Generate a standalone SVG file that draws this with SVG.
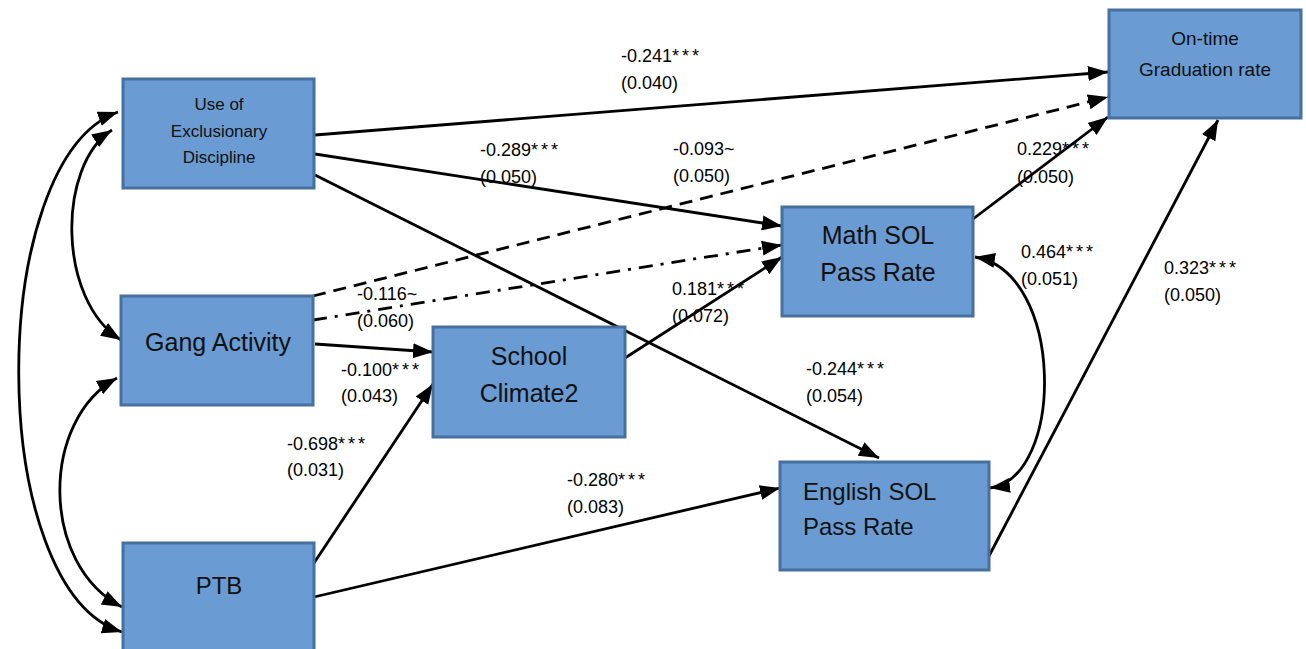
<svg xmlns="http://www.w3.org/2000/svg" width="1306" height="649" viewBox="0 0 1306 649">
<style>
.node{fill:#6a9bd2;stroke:#46709f;stroke-width:3}
.nt{font-family:"Liberation Sans",Arial,sans-serif;fill:#111;text-anchor:middle}
.lb{font-family:"Liberation Sans",Arial,sans-serif;font-size:18px;fill:#000}
.st{letter-spacing:3px}
.c{fill:none;stroke:#000;stroke-width:2.8}
.dash{stroke-dasharray:13 8}
.dd{stroke-dasharray:14 8 3 8}
</style>
<defs>
<marker id="ah" markerUnits="userSpaceOnUse" markerWidth="22" markerHeight="18" viewBox="0 0 22 18" refX="20" refY="9" orient="auto-start-reverse">
<path d="M0,1.5 L20,9 L0,16.5 Z" fill="#000"/>
</marker>
</defs>
<rect width="1306" height="649" fill="#fff"/>
<g id="connectors">
<path class="c" d="M315,135 L1108,72" marker-end="url(#ah)"/>
<path class="c" d="M315,154 L782,226" marker-end="url(#ah)"/>
<path class="c" d="M315,175 L879,458" marker-end="url(#ah)"/>
<path class="c dash" d="M313,296 L1108,97" marker-end="url(#ah)"/>
<path class="c dd" d="M313,320 L782,245" marker-end="url(#ah)"/>
<path class="c" d="M315,344 L433,352" marker-end="url(#ah)"/>
<path class="c" d="M314,563 L433,384" marker-end="url(#ah)"/>
<path class="c" d="M314,597 L780,488" marker-end="url(#ah)"/>
<path class="c" d="M625,358 L782,257" marker-end="url(#ah)"/>
<path class="c" d="M973,219 L1108,117" marker-end="url(#ah)"/>
<path class="c" d="M989,556 L1218,120" marker-end="url(#ah)"/>
<path class="c" d="M975,257 C1065,272 1065,478 990,488" marker-start="url(#ah)" marker-end="url(#ah)"/>
<path class="c" d="M118,112 C-15,160 -15,590 122,632" marker-start="url(#ah)" marker-end="url(#ah)"/>
<path class="c" d="M112,130 C57,165 57,300 121,340" marker-start="url(#ah)" marker-end="url(#ah)"/>
<path class="c" d="M117,378 C40,420 40,565 122,607" marker-start="url(#ah)" marker-end="url(#ah)"/>
</g>
<g id="labels">
<text class="lb" x="621" y="62">-0.241<tspan class="st">***</tspan></text><text class="lb" x="621" y="89">(0.040)</text>
<text class="lb" x="480" y="156">-0.289<tspan class="st">***</tspan></text><text class="lb" x="480" y="183">(0.050)</text>
<text class="lb" x="673" y="155">-0.093~</text><text class="lb" x="673" y="182">(0.050)</text>
<text class="lb" x="1017" y="155">0.229<tspan class="st">***</tspan></text><text class="lb" x="1017" y="183">(0.050)</text>
<text class="lb" x="1021" y="258">0.464<tspan class="st">***</tspan></text><text class="lb" x="1021" y="285">(0.051)</text>
<text class="lb" x="1164" y="274">0.323<tspan class="st">***</tspan></text><text class="lb" x="1164" y="301">(0.050)</text>
<text class="lb" x="357" y="300">-0.116~</text><text class="lb" x="357" y="327">(0.060)</text>
<text class="lb" x="672" y="295">0.181<tspan class="st">***</tspan></text><text class="lb" x="672" y="322">(0.072)</text>
<text class="lb" x="341" y="376">-0.100<tspan class="st">***</tspan></text><text class="lb" x="341" y="402">(0.043)</text>
<text class="lb" x="287" y="450">-0.698<tspan class="st">***</tspan></text><text class="lb" x="287" y="476">(0.031)</text>
<text class="lb" x="806" y="375">-0.244<tspan class="st">***</tspan></text><text class="lb" x="806" y="402">(0.054)</text>
<text class="lb" x="567" y="486">-0.280<tspan class="st">***</tspan></text><text class="lb" x="567" y="513">(0.083)</text>
</g>
<g id="ued">
<rect class="node" x="123" y="79" width="191" height="109"/>
<text class="nt" font-size="17" x="219" y="110">Use of</text>
<text class="nt" font-size="17" x="219" y="137">Exclusionary</text>
<text class="nt" font-size="17" x="219" y="163">Discipline</text>
</g>
<g id="gang">
<rect class="node" x="121" y="296" width="192" height="109"/>
<text class="nt" font-size="25" x="218" y="351">Gang Activity</text>
</g>
<g id="ptb">
<rect class="node" x="123" y="543" width="191" height="112"/>
<text class="nt" font-size="24" x="219" y="594">PTB</text>
</g>
<g id="climate">
<rect class="node" x="433" y="327" width="192" height="110"/>
<text class="nt" font-size="25" x="529" y="365">School</text>
<text class="nt" font-size="25" x="529" y="402">Climate2</text>
</g>
<g id="math">
<rect class="node" x="782" y="207" width="191" height="109"/>
<text class="nt" font-size="25" x="878" y="244">Math SOL</text>
<text class="nt" font-size="25" x="878" y="281">Pass Rate</text>
</g>
<g id="english">
<rect class="node" x="780" y="462" width="209" height="108"/>
<text class="nt" font-size="24" x="803" y="500" style="text-anchor:start">English SOL</text>
<text class="nt" font-size="24" x="803" y="535" style="text-anchor:start">Pass Rate</text>
</g>
<g id="grad">
<rect class="node" x="1109" y="10" width="192" height="108"/>
<text class="nt" font-size="19" x="1205" y="45">On-time</text>
<text class="nt" font-size="19" x="1205" y="76">Graduation rate</text>
</g>
</svg>
